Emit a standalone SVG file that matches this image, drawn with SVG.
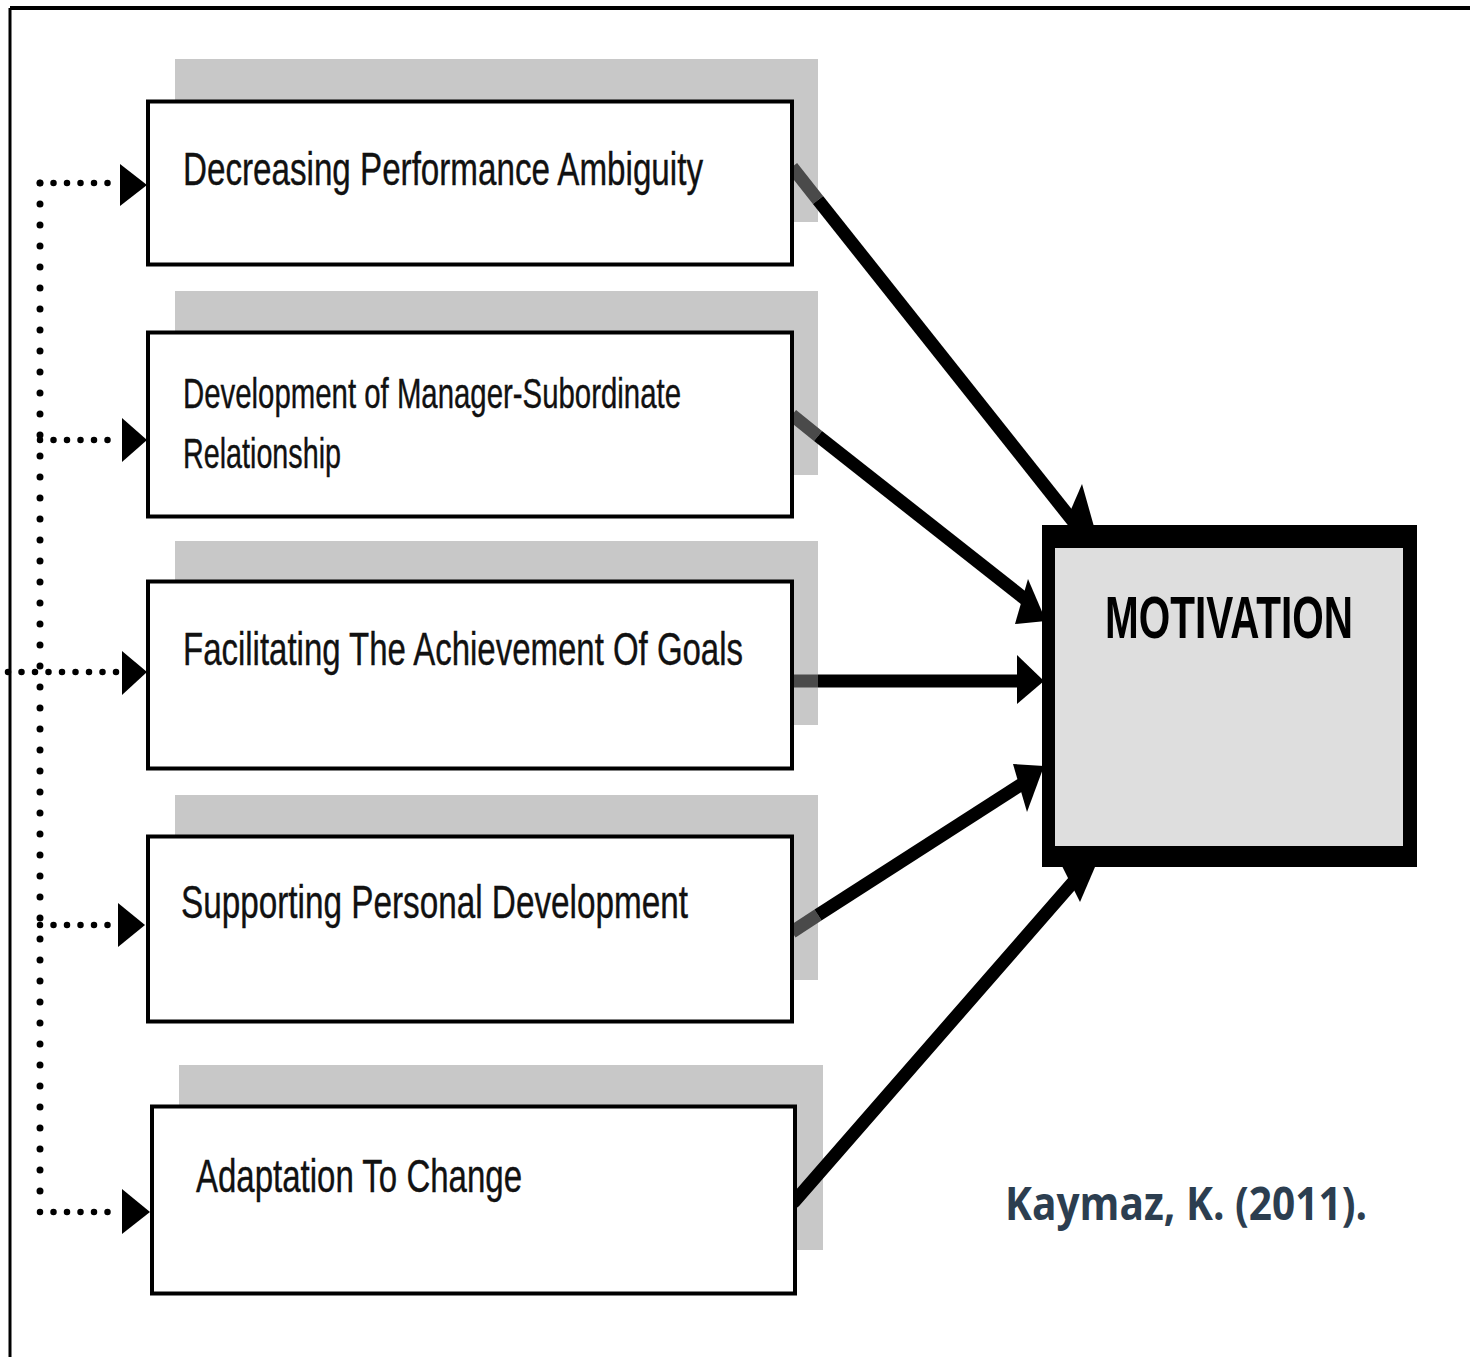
<svg xmlns="http://www.w3.org/2000/svg" width="1470" height="1357" viewBox="0 0 1470 1357">
<style>
.shadow{fill:#c8c8c8;}
.box{fill:#ffffff;stroke:#000;stroke-width:4;}
.lbl{font-family:"Liberation Sans",Arial,sans-serif;fill:#111;stroke:#111;stroke-width:0.4;}
.conn{stroke:#000;stroke-width:13;fill:none;}
.conng{stroke:#4a4a4a;stroke-width:13;fill:none;}
.head{fill:#000;}
.doth{stroke:#000;stroke-width:6.5;stroke-linecap:round;stroke-dasharray:0 13.5;fill:none;}
.dotv{stroke:#000;stroke-width:7;stroke-linecap:round;stroke-dasharray:0 21;fill:none;}
</style>
<rect x="0" y="0" width="1470" height="1357" fill="#fff"/>
<g id="frame">
<line x1="10" y1="8" x2="1470" y2="8" stroke="#000" stroke-width="4"/>
<line x1="10" y1="8" x2="10" y2="1357" stroke="#000" stroke-width="3"/>
</g>
<g id="shadows">
<rect class="shadow" x="175" y="59" width="643" height="163"/>
<rect class="shadow" x="175" y="291" width="643" height="184"/>
<rect class="shadow" x="175" y="541" width="643" height="184"/>
<rect class="shadow" x="175" y="795" width="643" height="185"/>
<rect class="shadow" x="179" y="1065" width="644" height="185"/>
</g>
<g id="connectors">
<line class="conng" x1="792" y1="167" x2="818" y2="200"/>
<line class="conn" x1="818" y1="200" x2="1080" y2="530"/>
<polygon class="head" points="1082,484 1100,548 1066,521"/>
<line class="conng" x1="792" y1="415" x2="818" y2="436"/>
<line class="conn" x1="818" y1="436" x2="1030" y2="603"/>
<polygon class="head" points="1028,579 1046,621 1015,624"/>
<line class="conng" x1="792" y1="681" x2="818" y2="681"/>
<line class="conn" x1="818" y1="681" x2="1020" y2="681"/>
<polygon class="head" points="1017,655 1044,681 1017,704"/>
<line class="conng" x1="792" y1="932" x2="818" y2="915"/>
<line class="conn" x1="818" y1="915" x2="1022" y2="784"/>
<polygon class="head" points="1013,764 1044,766 1027,812"/>
<line class="conn" x1="794" y1="1202" x2="1075" y2="880" stroke-linecap="round"/>
<polygon class="head" points="1062,866 1098,860 1080,902"/>
<path class="dotv" d="M40,183 V1212"/>
<path class="doth" d="M40,183 H118"/>
<path class="doth" d="M40,440 H118"/>
<path class="doth" d="M8,672 H118"/>
<path class="doth" d="M40,925 H116"/>
<path class="doth" d="M40,1212 H120"/>
<polygon class="head" points="120,164 147,185 120,206"/>
<polygon class="head" points="122,418 147,440 122,462"/>
<polygon class="head" points="122,651 147,672 122,695"/>
<polygon class="head" points="118,903 145,925 118,947"/>
<polygon class="head" points="122,1189 150,1212 122,1234"/>
</g>
<g id="node1">
<rect class="box" x="148" y="101.5" width="644" height="163"/>
<text class="lbl" x="183" y="185" font-size="46" textLength="520" lengthAdjust="spacingAndGlyphs">Decreasing Performance Ambiguity</text>
</g>
<g id="node2">
<rect class="box" x="148" y="332.5" width="644" height="184"/>
<text class="lbl" x="183" y="408" font-size="42" textLength="498" lengthAdjust="spacingAndGlyphs">Development of Manager-Subordinate</text>
<text class="lbl" x="183" y="468" font-size="42" textLength="158" lengthAdjust="spacingAndGlyphs">Relationship</text>
</g>
<g id="node3">
<rect class="box" x="148" y="581.5" width="644" height="187"/>
<text class="lbl" x="183" y="665" font-size="46" textLength="560" lengthAdjust="spacingAndGlyphs">Facilitating The Achievement Of Goals</text>
</g>
<g id="node4">
<rect class="box" x="148" y="836.5" width="644" height="185"/>
<text class="lbl" x="181" y="918" font-size="46" textLength="507" lengthAdjust="spacingAndGlyphs">Supporting Personal Development</text>
</g>
<g id="node5">
<rect class="box" x="152" y="1106.5" width="643" height="187"/>
<text class="lbl" x="196" y="1192" font-size="46" textLength="326" lengthAdjust="spacingAndGlyphs">Adaptation To Change</text>
</g>
<g id="motivation">
<rect x="1042" y="525" width="375" height="342" fill="#000"/>
<rect x="1055" y="548" width="348" height="298" fill="#dedede"/>
<text x="1105" y="638" font-family="Liberation Sans,Arial,sans-serif" font-weight="bold" font-size="60" fill="#000" textLength="248" lengthAdjust="spacingAndGlyphs">MOTIVATION</text>
</g>
<g id="citation">
<text x="1005" y="1220" font-family="Open Sans,Liberation Sans,sans-serif" font-weight="bold" font-size="46" fill="#2c3e50" textLength="362" lengthAdjust="spacingAndGlyphs">Kaymaz, K. (2011).</text>
</g>
</svg>
